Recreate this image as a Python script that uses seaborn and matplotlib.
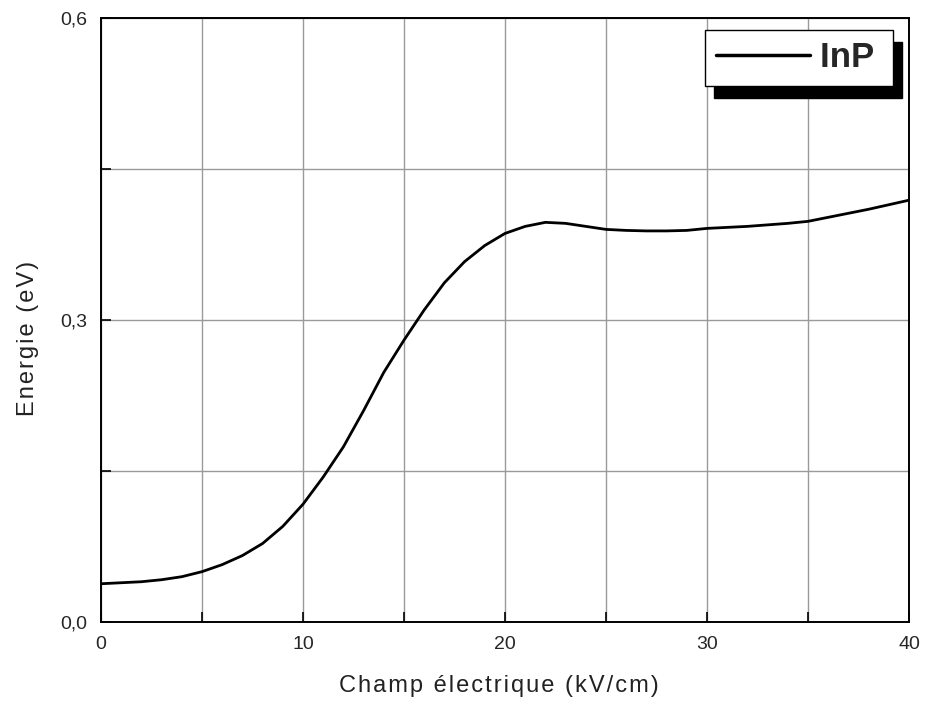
import matplotlib
matplotlib.use("Agg")
import matplotlib.pyplot as plt
import seaborn as sns
import pandas as pd
from matplotlib.ticker import MultipleLocator

# ---- data ----
champ = [0, 1, 2, 3, 4, 5, 6, 7, 8, 9, 10, 11, 12, 13, 14, 15, 16, 17, 18, 19,
         20, 21, 22, 23, 24, 25, 26, 27, 28, 29, 30, 32, 34, 35, 36, 38, 40]
energie = [0.038, 0.039, 0.040, 0.042, 0.045, 0.050, 0.057, 0.066, 0.078, 0.095,
           0.117, 0.144, 0.174, 0.210, 0.248, 0.280, 0.310, 0.337, 0.358, 0.374,
           0.386, 0.393, 0.397, 0.396, 0.393, 0.390, 0.389, 0.3885, 0.3885, 0.389,
           0.391, 0.393, 0.396, 0.398, 0.402, 0.410, 0.419]
series_name = "InP"
xtick_values = [0, 10, 20, 30, 40]
xtick_labels = ["0", "10", "20", "30", "40"]
ytick_values = [0.0, 0.3, 0.6]
ytick_labels = ["0,0", "0,3", "0,6"]
xlabel = "Champ électrique (kV/cm)"
ylabel = "Energie (eV)"

df = pd.DataFrame({"x": champ, "y": energie, "serie": series_name})

sns.set_style("white")
plt.rcParams["font.family"] = ["Liberation Sans", "DejaVu Sans"]

fig = plt.figure(figsize=(9.25, 7.05), dpi=100)
ax = fig.add_axes([101 / 925, 1 - 622 / 705, 808 / 925, 604 / 705])

sns.lineplot(data=df, x="x", y="y", hue="serie", palette=["black"],
             linewidth=2.0, ax=ax, legend=True)

ax.set_xlim(0, 40)
ax.set_ylim(0, 0.6)
ax.set_xticks(xtick_values)
ax.set_xticklabels(xtick_labels)
ax.set_yticks(ytick_values)
ax.set_yticklabels(ytick_labels)
ax.xaxis.set_minor_locator(MultipleLocator(5))
ax.yaxis.set_minor_locator(MultipleLocator(0.15))

ax.grid(True, which="both", color="#9a9a9a", linewidth=1.0)
ax.set_axisbelow(True)
for s in ax.spines.values():
    s.set_visible(True)
    s.set_color("black")
    s.set_linewidth(1.4)

ax.tick_params(which="both", direction="in", length=7, width=1.2,
               color="black", labelsize=14, pad=10,
               bottom=True, left=True, top=False, right=False)

spaced = lambda t: "\u200a".join(t)
ax.set_xlabel(spaced(xlabel), fontsize=17, labelpad=16, color="#222222")
ax.set_ylabel(spaced(ylabel), fontsize=17, labelpad=15, color="#222222")
ax.xaxis.label.set_x(0.493)
ax.yaxis.label.set_y(0.47)

leg = ax.legend(loc="upper right", bbox_to_anchor=(893 / 925, 1 - 30 / 705),
                bbox_transform=fig.transFigure, borderaxespad=0,
                frameon=True, fancybox=False, framealpha=1,
                edgecolor="black", prop={"weight": "bold", "size": 25},
                handlelength=2.7, handletextpad=0.3, borderpad=0.33,
                shadow={"ox": 6.5, "oy": -8.5, "facecolor": "black",
                        "edgecolor": "black", "alpha": 1})
leg.texts[0].set_text(series_name + "\u2009")
leg.get_frame().set_linewidth(1.0)
for h in leg.get_lines():
    h.set_linewidth(2.5)

fig.savefig("out.png", dpi=100)
